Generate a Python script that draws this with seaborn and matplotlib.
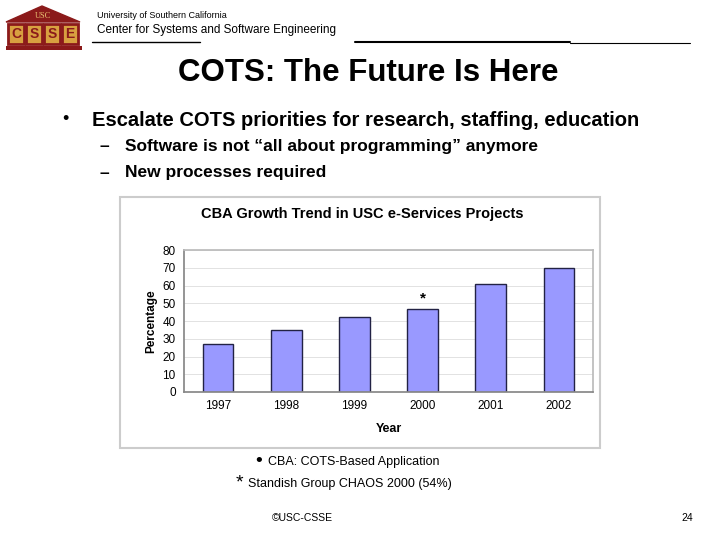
import matplotlib
matplotlib.use("Agg")
import matplotlib.pyplot as plt
import seaborn as sns
import pandas as pd
from matplotlib.patches import Rectangle, Polygon
from matplotlib.lines import Line2D

years = ["1997", "1998", "1999", "2000", "2001", "2002"]
percent = [27, 35, 42, 47, 61, 70]
yticks = [0, 10, 20, 30, 40, 50, 60, 70, 80]

sns.set_theme(style="white")
plt.rcParams['font.family'] = ['Liberation Sans', 'DejaVu Sans']
plt.rcParams['text.color'] = 'black'
plt.rcParams['axes.labelcolor'] = 'black'
plt.rcParams['xtick.color'] = 'black'
plt.rcParams['ytick.color'] = 'black'

W, H = 720, 540
fig = plt.figure(figsize=(7.2, 5.4), dpi=100)
fig.patch.set_facecolor("white")

def fx(x): return x / W
def fy(y): return 1 - y / H

# Logo
red = "#8B1A1A"
fig.patches.append(Polygon([(fx(6), fy(22)), (fx(42), fy(6)), (fx(80), fy(22))], closed=True,
                           transform=fig.transFigure, facecolor=red, edgecolor=red))
fig.text(fx(43), fy(16), "USC", color="#e8c070", fontsize=6, ha="center", va="center", family="Liberation Serif")
for i, ch in enumerate("CSSE"):
    x0 = 8 + i * 18
    fig.patches.append(Rectangle((fx(x0), fy(44)), fx(16), 20 / H, transform=fig.transFigure,
                                 facecolor="#d8a040", edgecolor=red, linewidth=2))
    fig.text(fx(x0 + 8), fy(34), ch, color=red, fontsize=10, fontweight="bold", ha="center", va="center")
fig.patches.append(Rectangle((fx(6), fy(50)), fx(76), 4 / H, transform=fig.transFigure,
                             facecolor=red, edgecolor="none"))

fig.text(fx(97), fy(15), "University of Southern California", fontsize=6.5, va="center")
fig.text(fx(97), fy(30), "Center for Systems and Software Engineering", fontsize=8.5, va="center")
fig.add_artist(Line2D([fx(92), fx(200)], [fy(42), fy(42)], color="black", lw=1, transform=fig.transFigure))
fig.add_artist(Line2D([fx(355), fx(570)], [fy(42), fy(42)], color="black", lw=1.5, transform=fig.transFigure))
fig.add_artist(Line2D([fx(570), fx(690)], [fy(43), fy(43)], color="black", lw=0.8, transform=fig.transFigure))

fig.text(fx(368), fy(73), "COTS: The Future Is Here", fontsize=22.5, fontweight="bold", ha="center", va="center")
fig.text(fx(62), fy(120), "•", fontsize=13, va="center")
fig.text(fx(92), fy(120), "Escalate COTS priorities for research, staffing, education", fontsize=14.5,
         fontweight="bold", va="center")
fig.text(fx(100), fy(147), "–", fontsize=12.5, fontweight="bold", va="center")
fig.text(fx(125), fy(147), "Software is not \u201call about programming\u201d anymore", fontsize=12.5,
         fontweight="bold", va="center")
fig.text(fx(100), fy(173), "–", fontsize=12.5, fontweight="bold", va="center")
fig.text(fx(125), fy(173), "New processes required", fontsize=12.5, fontweight="bold", va="center")

# chart box
box = Rectangle((fx(120), fy(448)), fx(480), 251 / H, transform=fig.transFigure,
                facecolor="white", edgecolor="#cccccc", linewidth=1.5, zorder=-5)
fig.patches.append(box)
fig.text(fx(362), fy(214), "CBA Growth Trend in USC e-Services Projects", fontsize=10.5,
         fontweight="bold", ha="center", va="center")

ax = fig.add_axes([fx(184), fy(392), fx(409), 142 / H])
ax.set_zorder(5)
df = pd.DataFrame({"Year": years, "Percentage": percent})
sns.barplot(data=df, x="Year", y="Percentage", color="#9999ff", saturation=1, width=0.45,
            edgecolor="#222244", linewidth=1, ax=ax)
ax.set_ylim(0, 80)
ax.set_yticks(yticks)
ax.tick_params(axis="both", labelsize=8.5, length=0, pad=6)
ax.yaxis.grid(True, color="#dddddd", linewidth=0.6)
ax.set_axisbelow(True)
for s in ["top", "right"]:
    ax.spines[s].set_color("#bbbbbb")
for s in ["left", "bottom"]:
    ax.spines[s].set_color("#888888")
ax.set_ylabel("Percentage", fontsize=8.5, fontweight="bold")
ax.set_xlabel("Year", fontsize=9, fontweight="bold", labelpad=8)
ax.text(3, percent[3] + 2, "*", ha="center", va="bottom", fontsize=11, fontweight="bold")

fig.text(fx(255), fy(462), "•", fontsize=14, va="center")
fig.text(fx(268), fy(462), "CBA: COTS-Based Application", fontsize=9, va="center")
fig.text(fx(236), fy(483), "*", fontsize=14, va="center")
fig.text(fx(248), fy(484), "Standish Group CHAOS 2000 (54%)", fontsize=9, va="center")
fig.text(fx(272), fy(518), "©USC-CSSE", fontsize=7.5, va="center")
fig.text(fx(693), fy(518), "24", fontsize=7.5, ha="right", va="center")

fig.savefig("out.png", dpi=100)
